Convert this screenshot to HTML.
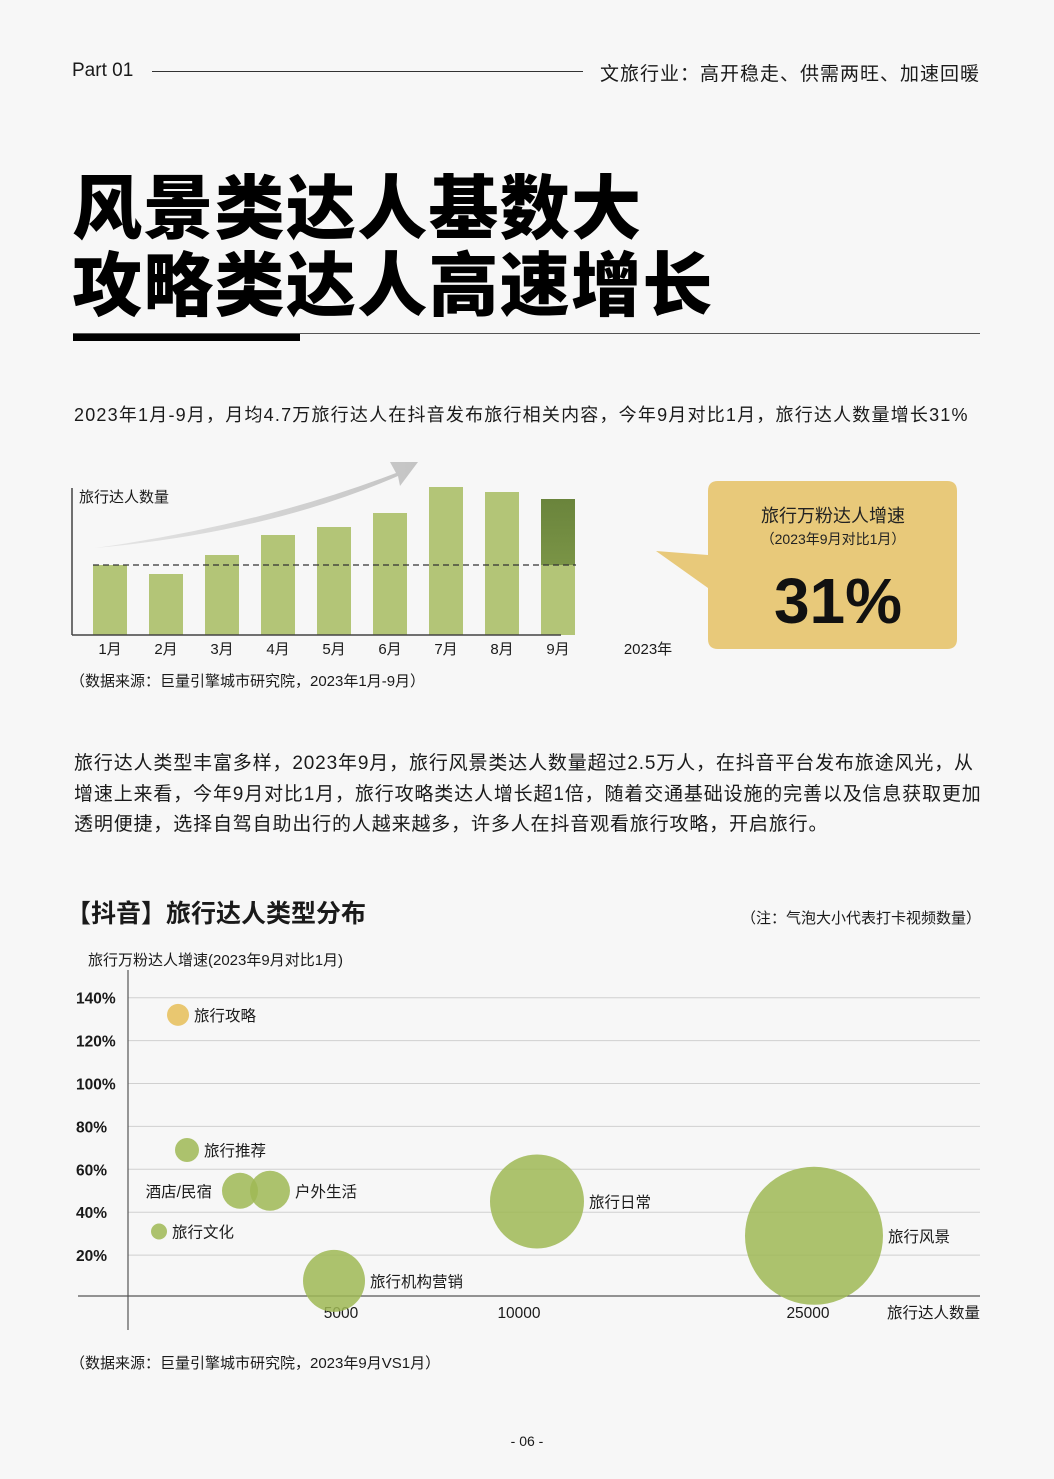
<!DOCTYPE html>
<html><head><meta charset="utf-8">
<style>
*{margin:0;padding:0;box-sizing:border-box}
body{width:1054px;height:1479px;background:#f7f7f7;position:relative;overflow:hidden;font-family:"Liberation Sans","Noto Sans CJK SC",sans-serif;color:#1a1a1a}
.a{position:absolute;white-space:nowrap}
</style></head><body>
<div class="a" style="left:72px;top:60px;font-size:19px;">Part 01</div>
<div class="a" style="left:152px;top:71px;width:431px;height:1px;background:#333"></div>
<div class="a" style="right:74px;top:59px;font-size:19px;letter-spacing:1px;">文旅行业：高开稳走、供需两旺、加速回暖</div>
<div class="a" style="left:72px;top:165px;font-size:70px;font-weight:900;line-height:77px;letter-spacing:1.3px;font-family:'Noto Sans CJK SC',sans-serif;color:#000">风景类达人基数大<br>攻略类达人高速增长</div>
<div class="a" style="left:73px;top:333px;width:907px;height:1px;background:#555"></div>
<div class="a" style="left:73px;top:334px;width:227px;height:7px;background:#000"></div>
<div class="a" style="left:74px;top:401px;font-size:18px;letter-spacing:1.2px;">2023年1月-9月，月均4.7万旅行达人在抖音发布旅行相关内容，今年9月对比1月，旅行达人数量增长31%</div>

<svg class="a" style="left:0;top:440px" width="1054" height="270" id="bar"></svg>

<div class="a" style="left:74px;top:749px;font-size:19px;letter-spacing:0.85px;line-height:30.5px;white-space:normal;width:912px;">旅行达人类型丰富多样，2023年9月，旅行风景类达人数量超过2.5万人，在抖音平台发布旅途风光，从增速上来看，今年9月对比1月，旅行攻略类达人增长超1倍，随着交通基础设施的完善以及信息获取更加透明便捷，选择自驾自助出行的人越来越多，许多人在抖音观看旅行攻略，开启旅行。</div>

<div class="a" style="left:66px;top:894px;font-size:25px;font-weight:700;">【抖音】旅行达人类型分布</div>
<div class="a" style="right:73px;top:907px;font-size:15px;">（注：气泡大小代表打卡视频数量）</div>
<div class="a" style="left:88px;top:949px;font-size:15px;">旅行万粉达人增速(2023年9月对比1月)</div>
<svg class="a" style="left:0;top:970px" width="1054" height="360" id="bub"></svg>
<div class="a" style="left:70px;top:1352px;font-size:15px;">（数据来源：巨量引擎城市研究院，2023年9月VS1月）</div>
<div class="a" style="left:0;width:1054px;text-align:center;top:1433px;font-size:14px;">- 06 -</div>

<script>
var months=['1月','2月','3月','4月','5月','6月','7月','8月','9月'];
var counts=[70,61,80,100,108,122,148,143,136];
var baseValue=70;

var cats=['旅行攻略','旅行推荐','酒店/民宿','户外生活','旅行文化','旅行机构营销','旅行日常','旅行风景'];
var creators=[1174,1385,2629,3333,728,4836,10934,25311];
var growth=[132,69,50,50,31,8,45,29];
var videos=[121,144,324,400,64,961,2209,4761];
var xTicks=[5000,10000,25000];
var yTicks=[20,40,60,80,100,120,140];

var NS='http://www.w3.org/2000/svg';
function mk(p,t,at){var e=document.createElementNS(NS,t);for(var k in at)e.setAttribute(k,at[k]);p.appendChild(e);return e;}

var bar=document.getElementById('bar');
var base=195, ppu=1.0;
function by(v){return base-v*ppu;}
function bx(i){return 110+i*56;}
var defs=mk(bar,'defs',{});
var lg=mk(defs,'linearGradient',{id:'dg',x1:0,y1:0,x2:0,y2:1});
mk(lg,'stop',{offset:'0','stop-color':'#6a843c'});mk(lg,'stop',{offset:'1','stop-color':'#7a9446'});
var ag=mk(defs,'linearGradient',{id:'ag',x1:0,y1:0,x2:1,y2:0});
mk(ag,'stop',{offset:'0','stop-color':'#e6e6e6'});mk(ag,'stop',{offset:'1','stop-color':'#c4c4c4'});
var arr=mk(bar,'path',{d:'M95,108 Q260,85 396,33 L390,22 L418,22 L400,46 L398,36 Q270,92 95,108 Z',fill:'url(#ag)'});

months.forEach(function(m,i){
  var r=mk(bar,'rect',{x:bx(i)-17,y:by(counts[i]),width:34,height:counts[i]*ppu,fill:'#b3c577'});
  
  
  if(i===months.length-1){
    var d=mk(bar,'rect',{x:bx(i)-17,y:by(counts[i]),width:34,height:(counts[i]-baseValue)*ppu,fill:'url(#dg)'});
    
    
  }
  var t=mk(bar,'text',{x:bx(i),y:base+19,'text-anchor':'middle','font-size':15,fill:'#1a1a1a'});t.textContent=m;
  
  
});
var dl=mk(bar,'line',{x1:93,x2:576,y1:by(baseValue),y2:by(baseValue),stroke:'#333','stroke-width':1.3,'stroke-dasharray':'6,4'});

mk(bar,'line',{x1:72,x2:72,y1:48,y2:base,stroke:'#444','stroke-width':1.5});
mk(bar,'line',{x1:72,x2:561,y1:base,y2:base,stroke:'#444','stroke-width':1.5});
var yt=mk(bar,'text',{x:79,y:62,'font-size':15,fill:'#1a1a1a'});yt.textContent='旅行达人数量';
var yr=mk(bar,'text',{x:648,y:214,'text-anchor':'middle','font-size':15,fill:'#1a1a1a'});yr.textContent='2023年';
var src=mk(bar,'text',{x:70,y:246,'font-size':15,fill:'#1a1a1a'});src.textContent='（数据来源：巨量引擎城市研究院，2023年1月-9月）';
var co=mk(bar,'path',{d:'M656,111 L708,115 L708,51 Q708,41 718,41 L947,41 Q957,41 957,51 L957,199 Q957,209 947,209 L718,209 Q708,209 708,199 L708,148 Z',fill:'#e8c97a'});

var c1=mk(bar,'text',{x:833,y:82,'text-anchor':'middle','font-size':18,fill:'#222'});c1.textContent='旅行万粉达人增速';
var c2=mk(bar,'text',{x:833,y:104,'text-anchor':'middle','font-size':14,fill:'#222'});c2.textContent='（2023年9月对比1月）';
var c3=mk(bar,'text',{x:838,y:183,'text-anchor':'middle','font-size':64,'font-weight':'bold',fill:'#111'});c3.textContent='31%';

var bub=document.getElementById('bub');
function xs(v){ if(v<=5000) return 128+v/5000*213; if(v<=10000) return 341+(v-5000)/5000*178; return 519+(v-10000)/15000*289;}
function ys(v){return 328-v/20*42.9;}
yTicks.forEach(function(t){
  mk(bub,'line',{x1:128,x2:980,y1:ys(t),y2:ys(t),stroke:'#d0d0d0','stroke-width':1});
  var tx=mk(bub,'text',{x:76,y:ys(t)+6,'font-size':15.5,'font-weight':'bold',fill:'#1a1a1a'});tx.textContent=t+'%';
  
  
});
mk(bub,'line',{x1:128,x2:128,y1:0,y2:360,stroke:'#555','stroke-width':1.2});
mk(bub,'line',{x1:78,x2:980,y1:326,y2:326,stroke:'#555','stroke-width':1.2});
xTicks.forEach(function(t){
  var tx=mk(bub,'text',{x:xs(t),y:348,'text-anchor':'middle','font-size':15.5,fill:'#1a1a1a'});tx.textContent=t;
  
  
});
var xt=mk(bub,'text',{x:980,y:348,'text-anchor':'end','font-size':15.5,fill:'#1a1a1a'});xt.textContent='旅行达人数量';
cats.forEach(function(c,i){
  var r=Math.sqrt(videos[i]);
  var cx=xs(creators[i]),cy=ys(growth[i]);
  var ci=mk(bub,'circle',{cx:cx,cy:cy,r:r,fill:i===0?'#e8c468':'#9fb955','fill-opacity':i===0?0.95:0.85});
  
  
  var left=(c==='酒店/民宿');
  var lb=mk(bub,'text',{x:left?cx-r-10:cx+r+5,y:cy+6,'text-anchor':left?'end':'start','font-size':15.5,fill:'#1a1a1a'});
  lb.textContent=c;
  
  
});
</script>
</body></html>
